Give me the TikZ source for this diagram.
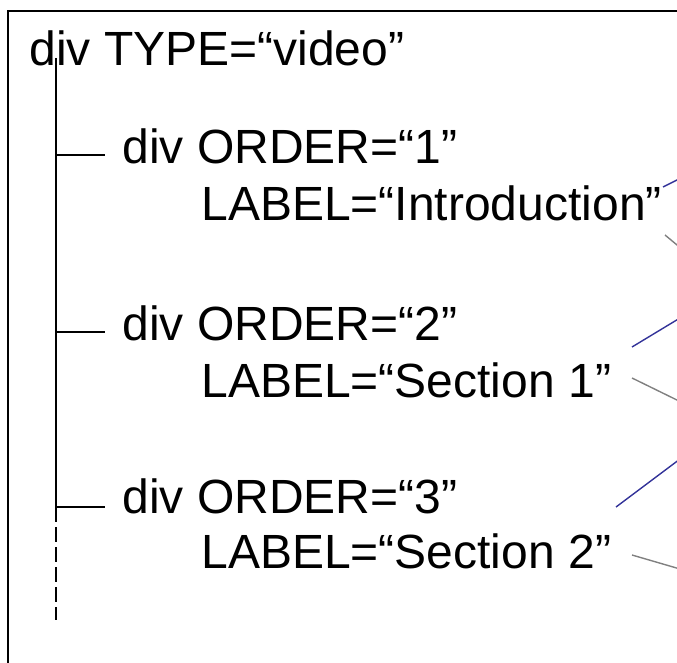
\documentclass[tikz,border=0pt]{standalone}
\usepackage{fontspec}
\setmainfont{Liberation Sans}
\definecolor{linkblue}{RGB}{51,51,153}
\definecolor{linkgray}{RGB}{128,128,128}
\begin{document}
\begin{tikzpicture}[x=1pt,y=-1pt,
  txt/.style={anchor=base west, inner sep=0pt, outer sep=0pt, font=\fontsize{48}{56}\selectfont},
  tree/.style={line width=1.5pt, black},
  treedash/.style={line width=1.5pt, black, dash pattern=on 15pt off 5pt},
  frame/.style={line width=1.6pt, black},
  bluelink/.style={line width=1.4pt, linkblue},
  graylink/.style={line width=1.4pt, linkgray}]
\useasboundingbox (0,0) rectangle (677,663);
\clip (0,0) rectangle (677,663);
% frame
\coordinate (fbl) at (8,680);
\coordinate (ftl) at (8,11);
\coordinate (ftr) at (700,11);
\draw[frame] (fbl) -- (ftl) -- (ftr);
% texts
\node[txt] (root) at (29.5,66) {div TYPE=“video”};
\node[txt] (o1) at (122.5,164) {div ORDER=“1”};
\node[txt] (l1) at (201.5,221) {LABEL=“Introduction”};
\node[txt] (o2) at (122.5,340) {div ORDER=“2”};
\node[txt] (l2) at (201.5,397) {LABEL=“Section 1”};
\node[txt] (o3) at (122.5,513) {div ORDER=“3”};
\node[txt] (l3) at (201.5,568) {LABEL=“Section 2”};
% tree trunk
\coordinate (ttop) at (56,58);
\coordinate (t1) at (56,155);
\coordinate (t2) at (56,332);
\coordinate (t3) at (56,507);
\coordinate (tend) at (56,620);
\coordinate (t1e) at (105,155);
\coordinate (t2e) at (105,332);
\coordinate (t3e) at (105,507);
\draw[tree] (ttop) -- (t3);
\draw[treedash] (t3) -- (tend);
\draw[tree] (t1) -- (t1e);
\draw[tree] (t2) -- (t2e);
\draw[tree] (t3) -- (t3e);
% links to the right
\coordinate (b1s) at (663,187);
\coordinate (b1e) at (680,178.5);
\coordinate (g1s) at (665,235);
\coordinate (g1e) at (680,247.5);
\coordinate (b2s) at (632,347);
\coordinate (b2e) at (680,318);
\coordinate (g2s) at (632,378);
\coordinate (g2e) at (680,401.5);
\coordinate (b3s) at (616,507);
\coordinate (b3e) at (680,459);
\coordinate (g3s) at (632,555);
\coordinate (g3e) at (680,569);
\draw[bluelink] (b1s) -- (b1e);
\draw[graylink] (g1s) -- (g1e);
\draw[bluelink] (b2s) -- (b2e);
\draw[graylink] (g2s) -- (g2e);
\draw[bluelink] (b3s) -- (b3e);
\draw[graylink] (g3s) -- (g3e);
\end{tikzpicture}
\end{document}
